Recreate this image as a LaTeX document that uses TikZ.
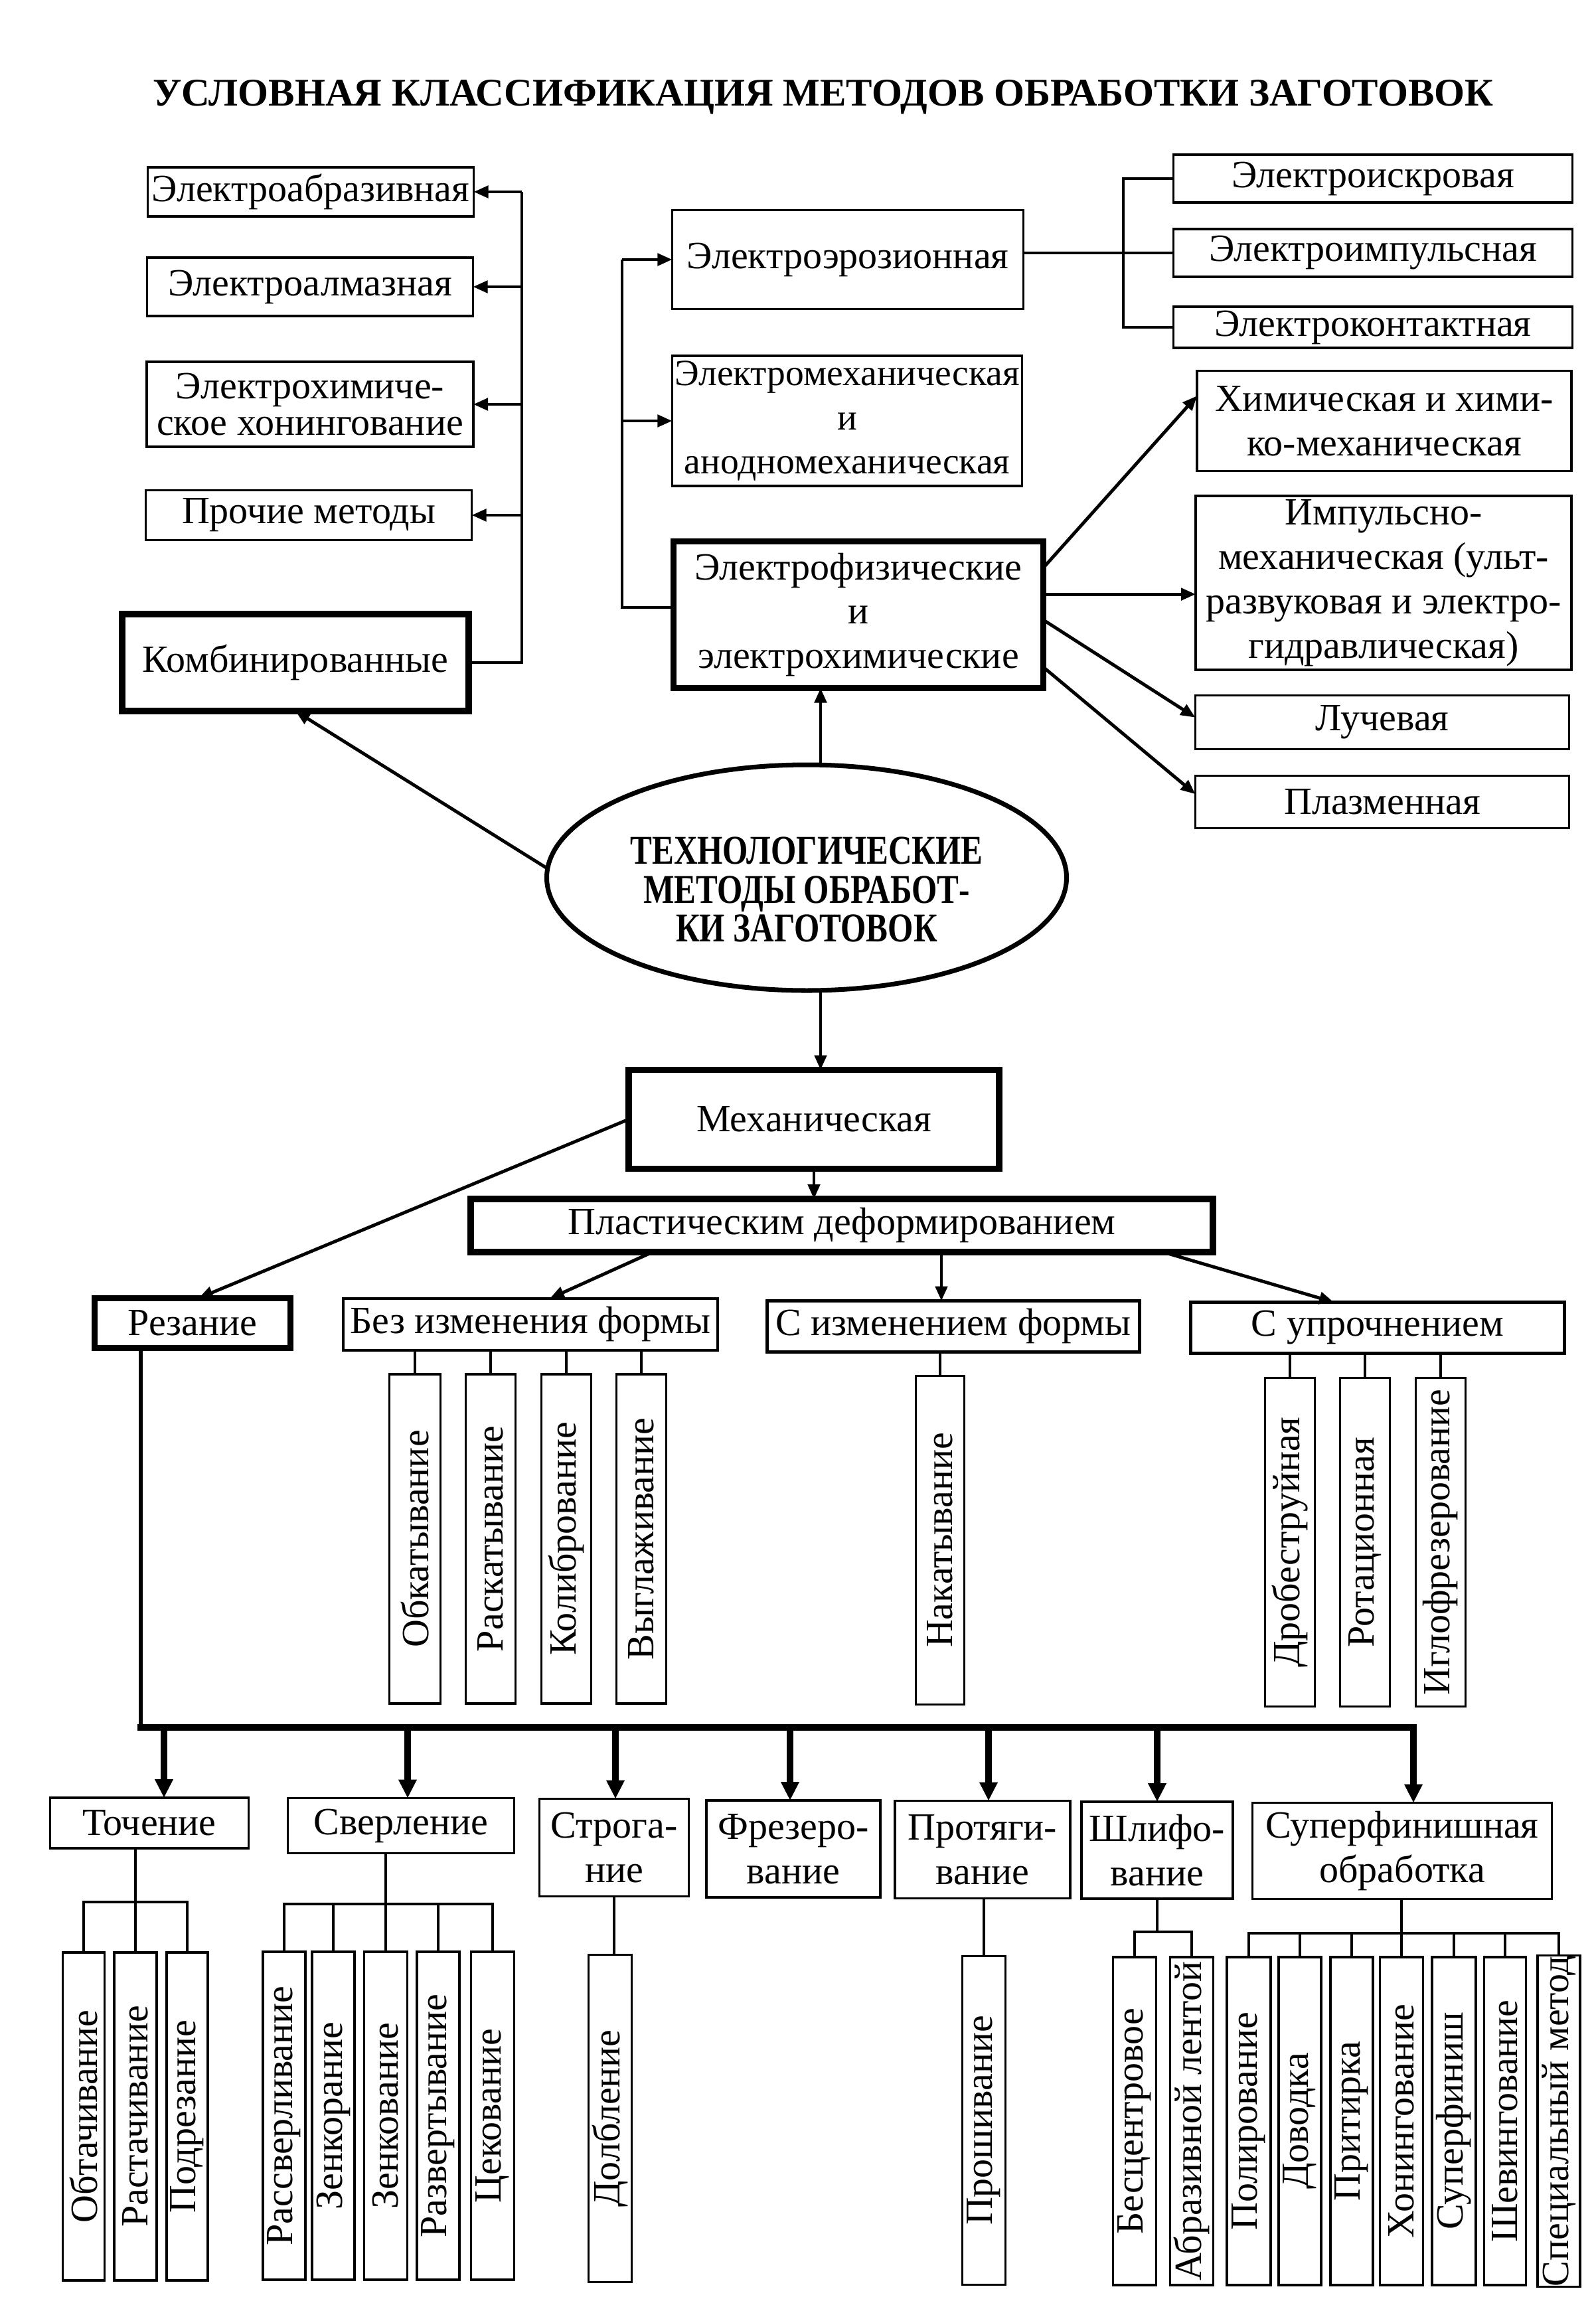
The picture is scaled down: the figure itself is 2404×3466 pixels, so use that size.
\documentclass[tikz,border=0pt]{standalone}
\usepackage{fontspec}
\usepackage{graphicx}
\setmainfont{Liberation Serif}
\newfontfamily\ellfont[FakeStretch=0.8]{Liberation Serif}
\usetikzlibrary{arrows.meta,shapes.geometric,calc}
\begin{document}
\begin{tikzpicture}[x=0.01cm,y=-0.01cm,
  every node/.style={inner sep=0pt, outer sep=0pt, align=center,
    font=\fontsize{16.5pt}{19pt}\selectfont},
  sz/.style 2 args={minimum width=#1*0.01cm, minimum height=#2*0.01cm},
  box/.style={draw, line width=1pt},
  mbox/.style={draw, line width=1.2pt},
  tbox/.style={draw, line width=2.6pt},
  conn/.style={line width=1.4pt},
  thinl/.style={line width=0.9pt},
  arr/.style={line width=1.4pt, -{Triangle[length=0.22cm,width=0.18cm]}},
  bigarr/.style={line width=2.6pt, -{Triangle[length=0.28cm,width=0.26cm]}},
]
\fill[white] (0,0) rectangle (2404,3466);
\useasboundingbox (0,0) rectangle (2404,3466);

% title
\node[anchor=base, font=\bfseries\fontsize{16.8pt}{20pt}\selectfont] (title) at (1240,159)
  {УСЛОВНАЯ КЛАССИФИКАЦИЯ МЕТОДОВ ОБРАБОТКИ ЗАГОТОВОК};

% left column
\node[box, sz={491}{74}] (eabr) at (468,289) {Электроабразивная};
\node[box, sz={491}{88}] (ealm) at (467,432) {Электроалмазная};
\node[box, sz={492}{128}, font=\fontsize{16.5pt}{15.8pt}\selectfont] (ehim) at (467,609) {Электрохимиче-\\ское хонингование};
\node[box, sz={491}{75}] (proch) at (465,776) {Прочие методы};
\node[tbox, sz={522}{146}] (komb) at (445,998) {Комбинированные};

% middle column
\node[box, sz={529}{149}] (eeroz) at (1277,391) {Электроэрозионная};
\node[box, sz={527}{196}, font=\fontsize{15.8pt}{19pt}\selectfont] (emeh) at (1276,634) {Электромеханическая\\и\\анодномеханическая};
\node[tbox, sz={557}{221}] (efiz) at (1293,926) {Электрофизические\\и\\электрохимические};

% right column
\node[box, sz={601}{72}] (eisk) at (2068,269) {Электроискровая};
\node[box, sz={601}{72}] (eimp) at (2068,381) {Электроимпульсная};
\node[box, sz={601}{62}] (ekont) at (2068,493) {Электроконтактная};
\node[box, sz={564}{151}] (xim) at (2085,634) {Химическая и хими-\\ко-механическая};
\node[box, sz={566}{262}] (imp) at (2084,878) {Импульсно-\\механическая (ульт-\\развуковая и электро-\\гидравлическая)};
\node[box, sz={563}{81}] (luch) at (2082,1088) {Лучевая};
\node[box, sz={563}{79}] (plaz) at (2082,1208) {Плазменная};

% ellipse
\node[ellipse, draw, line width=2pt, sz={783}{340}] (ell) at (1215,1322) {};
\node[font=\ellfont\bfseries\fontsize{17.5pt}{16.6pt}\selectfont] (elltxt) at (1215,1340)
  {ТЕХНОЛОГИЧЕСКИЕ\\МЕТОДЫ ОБРАБОТ-\\КИ ЗАГОТОВОК};

% mechanical
\node[tbox, sz={558}{149}] (meh) at (1226,1686) {Механическая};
\node[tbox, sz={1118}{80}] (plast) at (1268,1846) {Пластическим деформированием};
\node[tbox, sz={295}{75}] (rez) at (290,1993) {Резание};
\node[mbox, sz={564}{78}] (bez) at (799,1995) {Без изменения формы};
\node[mbox, sz={561}{77}] (sizm) at (1436,1998) {С изменением формы};
\node[mbox, sz={563}{77}] (supr) at (2075,2000) {С упрочнением};

% vertical children (upper)
\node[box, sz={77}{496}] (o1) at (625,2318) {\rotatebox{90}{Обкатывание}};
\node[box, sz={75}{496}] (o2) at (739,2318) {\rotatebox{90}{Раскатывание}};
\node[box, sz={75}{496}] (o3) at (853,2318) {\rotatebox{90}{Колибрование}};
\node[box, sz={75}{496}] (o4) at (966,2318) {\rotatebox{90}{Выглаживание}};
\node[box, sz={73}{495}] (nak) at (1416,2320) {\rotatebox{90}{Накатывание}};
\node[box, sz={75}{495}] (u1) at (1943,2323) {\rotatebox{90}{Дробеструйная}};
\node[box, sz={75}{495}] (u2) at (2056,2323) {\rotatebox{90}{Ротационная}};
\node[box, sz={75}{495}] (u3) at (2170,2323) {\rotatebox{90}{Иглофрезерование}};

% cutting kinds
\node[box, sz={299}{76}] (toch) at (225,2746) {Точение};
\node[box, sz={341}{83}] (sverl) at (604,2750) {Сверление};
\node[box, sz={225}{147}] (strog) at (925,2783) {Строга-\\ние};
\node[box, sz={262}{146}] (frez) at (1195,2785) {Фрезеро-\\вание};
\node[box, sz={264}{147}] (prot) at (1480,2786) {Протяги-\\вание};
\node[box, sz={228}{146}] (shlif) at (1743,2787) {Шлифо-\\вание};
\node[box, sz={451}{145}] (super) at (2112,2788) {Суперфинишная\\обработка};

% vertical children (lower)
\node[box, sz={63}{494}] (t1) at (126,3188) {\rotatebox{90}{Обтачивание}};
\node[box, sz={64}{494}] (t2) at (204,3188) {\rotatebox{90}{Растачивание}};
\node[box, sz={62}{494}] (t3) at (282,3188) {\rotatebox{90}{Подрезание}};
\node[box, sz={64}{494}] (s1) at (428,3187) {\rotatebox{90}{Рассверливание}};
\node[box, sz={64}{494}] (s2) at (502,3187) {\rotatebox{90}{Зенкорание}};
\node[box, sz={65}{494}] (s3) at (581,3187) {\rotatebox{90}{Зенкование}};
\node[box, sz={64}{494}] (s4) at (660,3187) {\rotatebox{90}{Развертывание}};
\node[box, sz={65}{494}] (s5) at (742,3187) {\rotatebox{90}{Цекование}};
\node[box, sz={65}{493}] (dolb) at (919,3191) {\rotatebox{90}{Долбление}};
\node[box, sz={65}{495}] (proshiv) at (1482,3194) {\rotatebox{90}{Прошивание}};
\node[box, sz={65}{494}] (b1) at (1709,3195) {\rotatebox{90}{Бесцентровое}};
\node[box, sz={65}{494}] (b2) at (1795,3195) {\rotatebox{90}{Абразивной лентой}};
\node[box, sz={66}{494}] (p1) at (1881,3195) {\rotatebox{90}{Полирование}};
\node[box, sz={64}{494}] (p2) at (1958,3195) {\rotatebox{90}{Доводка}};
\node[box, sz={64}{494}] (p3) at (2036,3195) {\rotatebox{90}{Притирка}};
\node[box, sz={65}{494}] (p4) at (2111,3195) {\rotatebox{90}{Хонингование}};
\node[box, sz={66}{494}] (p5) at (2190,3195) {\rotatebox{90}{Суперфиниш}};
\node[box, sz={63}{494}] (p6) at (2267,3195) {\rotatebox{90}{Шевингование}};
\node[box, sz={64}{494}] (p7) at (2348,3195) {\rotatebox{90}{Специальный метод}};

% ---- connectors ----
% combined bracket
\coordinate (kv) at (786,289);
\draw[conn] (komb.east) -| (kv);
\draw[arr] (kv) -- (eabr.east);
\draw[arr] (kv |- ealm.east) -- (ealm.east);
\draw[arr] (kv |- ehim.east) -- (ehim.east);
\draw[arr] (kv |- proch.east) -- (proch.east);

% electrophysical bracket
\coordinate (fv) at (937,391);
\coordinate (fw) at ($(efiz.west)+(0,-11)$);
\draw[conn] (fw) -| (fv);
\draw[arr] (fv) -- (eeroz.west);
\draw[arr] (fv |- emeh.west) -- (emeh.west);

% erosion bracket
\coordinate (bk) at (1692,269);
\draw[conn] (eeroz.east |- eimp.west) -- (eimp.west);
\draw[conn] (eisk.west) -- (bk) -- (bk |- ekont.west) -- (ekont.west);

% electrophysical arrows
\coordinate (f1) at ($(efiz.north east)!0.18!(efiz.south east)$);
\coordinate (f2) at ($(efiz.north east)!0.36!(efiz.south east)$);
\coordinate (f3) at ($(efiz.north east)!0.535!(efiz.south east)$);
\coordinate (f4) at ($(efiz.north east)!0.857!(efiz.south east)$);
\draw[arr] (f1) -- ($(xim.north west)!0.25!(xim.south west)$);
\draw[arr] (f2) -- (f2 -| imp.west);
\draw[arr] (f3) -- ($(luch.north west)!0.41!(luch.south west)$);
\draw[arr] (f4) -- ($(plaz.north west)!0.35!(plaz.south west)$);

% ellipse arrows
\draw[arr] (ell.178) -- (komb.south);
\coordinate (eu) at ($(ell.north)+(21,0)$);
\draw[arr] (eu) -- (eu |- efiz.south);
\coordinate (ed) at ($(ell.south)+(21,0)$);
\draw[arr] (ed) -- (ed |- meh.north);

% mechanical arrows
\draw[arr] (meh.west) -- ($(rez.north)+(9,0)$);
\draw[arr] (meh.south) -- (meh.south |- plast.north);
\coordinate (pa) at ($(plast.south west)!0.245!(plast.south east)$);
\draw[arr] (pa) -- ($(bez.north)+(29,0)$);
\coordinate (pbx) at ($(sizm.north)+(-18,0)$);
\draw[arr] (pbx |- plast.south) -- (pbx);
\coordinate (pc) at ($(plast.south west)!0.933!(plast.south east)$);
\draw[arr] (pc) -- ($(supr.north)+(-66,0)$);

% upper children connectors
\foreach \c in {o1,o2,o3,o4} \draw[thinl] (bez.south -| \c.north) -- (\c.north);
\draw[thinl] (sizm.south -| nak.north) -- (nak.north);
\foreach \c in {u1,u2,u3} \draw[thinl] (supr.south -| \c.north) -- (\c.north);

% cutting bus
\coordinate (rv) at (212,2602);
\coordinate (br) at (2129,2602);
\draw[line width=1.7pt] (rez.south -| rv) -- (rv);
\draw[bigarr, line cap=rect] (rv) -- (br) -- (br |- super.north);
\coordinate (a1) at ($(toch.north)+(22,0)$);
\coordinate (a2) at ($(sverl.north)+(10,0)$);
\coordinate (a3) at ($(strog.north)+(2,0)$);
\coordinate (a4) at ($(frez.north)+(-5,0)$);
\coordinate (a5) at ($(prot.north)+(9,0)$);
\coordinate (a6) at (shlif.north);
\foreach \a in {a1,a2,a3,a4,a5,a6} \draw[bigarr] (\a |- rv) -- (\a);

% lower brackets
\coordinate (tb) at (0,2865);
\draw[thinl] (toch.south -| t2.north) -- (t2.north);
\draw[thinl] (t1.north) -- (t1.north |- tb) -- (t3.north |- tb) -- (t3.north);
\coordinate (sb) at (0,2868);
\draw[thinl] (sverl.south -| s3.north) -- (s3.north);
\draw[thinl] (s1.north) -- (s1.north |- sb) -- (s5.north |- sb) -- (s5.north);
\foreach \c in {s2,s4} \draw[thinl] (\c.north |- sb) -- (\c.north);
\draw[thinl] (strog.south) -- (strog.south |- dolb.north);
\draw[thinl] (prot.south -| proshiv.north) -- (proshiv.north);
\coordinate (shb) at (0,2910);
\draw[thinl] (shlif.south) -- (shlif.south |- shb);
\draw[thinl] (b1.north) -- (b1.north |- shb) -- (b2.north |- shb) -- (b2.north);
\coordinate (pb) at (0,2912);
\draw[thinl] (super.south -| p4.north) -- (p4.north);
\draw[thinl] (p1.north) -- (p1.north |- pb) -- (p7.north |- pb) -- (p7.north);
\foreach \c in {p2,p3,p5,p6} \draw[thinl] (\c.north |- pb) -- (\c.north);
\end{tikzpicture}
\end{document}
